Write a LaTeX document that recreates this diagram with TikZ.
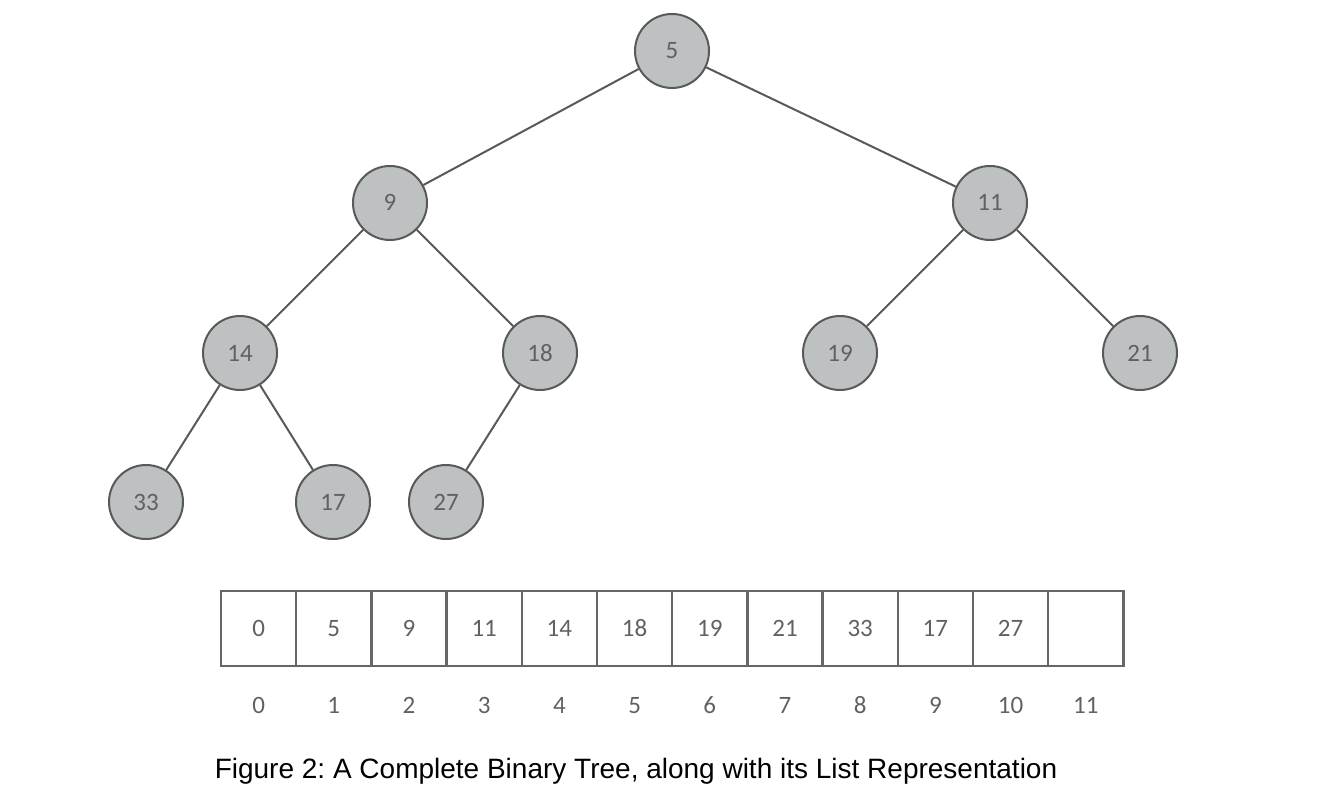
\documentclass[tikz,border=0pt]{standalone}
\usepackage{fontspec}
\setmainfont{Liberation Sans}
\newfontfamily\numfont[Numbers=Lining]{Carlito}
\frenchspacing
\begin{document}
\begin{tikzpicture}[x=1pt,y=-1pt,
  digits/.style={font=\numfont\fontsize{25}{28}\selectfont, text=black!62,
    text height=16pt, text depth=0pt},
  treenode/.style={digits, circle, draw=black!65, line width=2pt, fill=heapfill,
    minimum size=74pt, inner sep=0pt},
  link/.style={draw=black!65, line width=2pt},
  cell/.style={digits, draw=black!60, line width=2.5pt, minimum width=75.2pt,
    minimum height=75pt, inner sep=0pt},
  idx/.style={digits}]
\definecolor{heapfill}{HTML}{BEC1C2}
\useasboundingbox (0,0) rectangle (1344,810);

% tree nodes
\node[treenode] (n5)  at (672,51)  {5};
\node[treenode] (n9)  at (390,203) {9};
\node[treenode] (n11) at (990,203) {11};
\node[treenode] (n14) at (240,353) {14};
\node[treenode] (n18) at (540,353) {18};
\node[treenode] (n19) at (840,353) {19};
\node[treenode] (n21) at (1140,353) {21};
\node[treenode] (n33) at (146,502) {33};
\node[treenode] (n17) at (333,502) {17};
\node[treenode] (n27) at (446,502) {27};

% parent-child links
\draw[link] (n5) -- (n9);
\draw[link] (n5) -- (n11);
\draw[link] (n9) -- (n14);
\draw[link] (n9) -- (n18);
\draw[link] (n11) -- (n19);
\draw[link] (n11) -- (n21);
\draw[link] (n14) -- (n33);
\draw[link] (n14) -- (n17);
\draw[link] (n18) -- (n27);

% list representation
\foreach \v [count=\i from 0] in {0,5,9,11,14,18,19,21,33,17,27,{}} {
  \node[cell] (c\i) at ({258.6+75.2*\i},628.5) {\v};
  \node[idx] (k\i) at ({258.6+75.2*\i},705) {\i};
}

% caption
\node[font=\fontsize{28}{32}\selectfont] (cap) at (636,771)
  {Figure 2: A Complete Binary Tree, along with its List Representation};
\end{tikzpicture}
\end{document}
